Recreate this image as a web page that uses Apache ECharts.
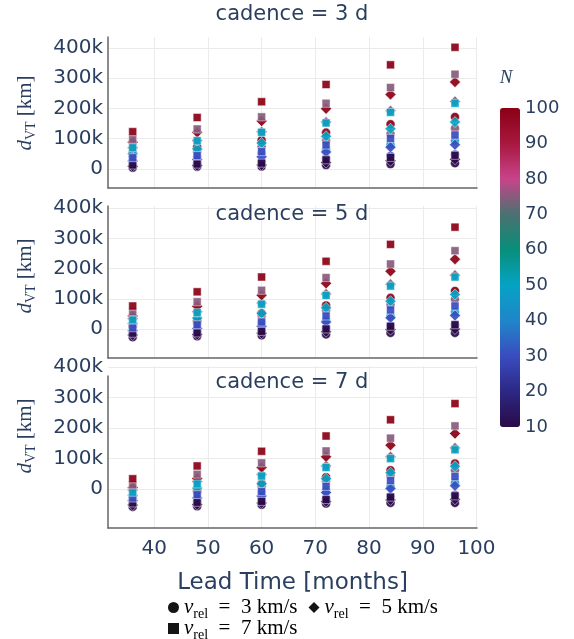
<!DOCTYPE html>
<html>
<head>
<meta charset="utf-8">
<script src="https://cdn.jsdelivr.net/npm/echarts@6/dist/echarts.min.js"></script>
<style>
  html, body { margin: 0; padding: 0; background: #fff; }
  #chart { width: 574px; height: 639px; }
</style>
</head>
<body>
<div id="chart"></div>
<script>
// Lead times (months) and number of observations N
const leadTime = [36, 48, 60, 72, 84, 96];
const nLevels = [10, 30, 50, 75, 100];
const xTickValues = [40, 50, 60, 70, 80, 90, 100];
const yTickValues = [0, 100, 200, 300, 400];
const cadenceLabels = ['cadence = 3 d', 'cadence = 5 d', 'cadence = 7 d'];
const colorTicks = [10, 20, 30, 40, 50, 60, 70, 80, 90, 100];

// d_VT in thousands of km. Rows follow nLevels, columns follow leadTime.
// cadence = 3 d
const cad3_v3 = [
  [4, 7, 8, 13, 16, 19],
  [16, 19, 24, 34, 43, 48],
  [30, 40, 52, 65, 80, 93],
  [42, 57, 74, 93, 116, 134],
  [53, 73, 95, 120, 148, 172]
];
const cad3_v5 = [
  [9, 11, 13, 21, 27, 32],
  [26, 31, 40, 56, 72, 80],
  [50, 66, 86, 108, 133, 155],
  [70, 94, 123, 155, 192, 223],
  [88, 121, 158, 199, 246, 287]
];
const cad3_v7 = [
  [13, 16, 19, 30, 38, 45],
  [37, 44, 57, 79, 101, 112],
  [70, 93, 121, 152, 187, 217],
  [98, 132, 172, 217, 269, 313],
  [123, 170, 222, 279, 344, 402]
];
// cadence = 5 d
const cad5_v3 = [
  [-27, -24, -21, -18, -13, -13],
  [-16, -10, -5, 3, 11, 14],
  [6, 18, 22, 29, 42, 56],
  [8, 24, 44, 62, 80, 98],
  [10, 27, 52, 78, 103, 126]
];
const cad5_v5 = [
  [-20, -18, -14, -9, -2, 0],
  [-6, 2, 9, 23, 37, 45],
  [18, 36, 52, 70, 92, 114],
  [34, 57, 86, 116, 148, 178],
  [43, 75, 112, 151, 191, 231]
];
const cad5_v7 = [
  [-14, -13, -8, 0, 9, 14],
  [4, 14, 23, 43, 63, 76],
  [30, 54, 82, 111, 142, 172],
  [57, 90, 128, 170, 215, 259],
  [76, 123, 172, 224, 280, 337]
];
// cadence = 7 d
const cad7_v3 = [
  [-58, -56, -51, -47, -45, -45],
  [-45, -40, -36, -31, -24, -19],
  [-30, -10, -8, -3, 8, 21],
  [-24, 1, 10, 27, 45, 62],
  [-23, -6, 19, 39, 62, 84]
];
const cad7_v5 = [
  [-52, -50, -45, -40, -35, -33],
  [-37, -29, -22, -11, 2, 11],
  [-20, 4, 18, 34, 54, 75],
  [-3, 25, 48, 76, 106, 135],
  [5, 35, 71, 106, 144, 182]
];
const cad7_v7 = [
  [-45, -43, -40, -34, -26, -22],
  [-29, -18, -8, 9, 28, 41],
  [-10, 17, 43, 71, 100, 129],
  [14, 49, 86, 125, 167, 207],
  [34, 76, 124, 174, 227, 280]
];

const panels = [
  [cad3_v3, cad3_v5, cad3_v7],
  [cad5_v3, cad5_v5, cad5_v7],
  [cad7_v3, cad7_v5, cad7_v7]
];
const speedNames = ['v3', 'v5', 'v7'];
const speedText = { v3: '3', v5: '5', v7: '7' };
const symbols = ['circle', 'diamond', 'rect'];
const symbolSizes = [9, 11, 8];

const TXT = '#2a3f5f';
const SANS = '"DejaVu Sans", Verdana, sans-serif';
const SERIF = '"Liberation Serif", "DejaVu Serif", serif';

// panel layout: top, height and y range of each facet
const panelBox = [
  { top: 37, height: 151, min: -63, max: 436 },
  { top: 206, height: 152, min: -96, max: 407 },
  { top: 366, height: 162, min: -127, max: 403 }
];
const GL = 108, GR = 97;

const grids = panelBox.map(b => ({ left: GL, right: GR, top: b.top, height: b.height }));
grids.push({ left: GL, right: GR, top: 376, height: 152 });      // axis line frame for bottom panel
grids.push({ left: 500, width: 20, top: 108, height: 319 });      // colour bar scale

const xAxes = panelBox.map((b, i) => ({
  type: 'value', gridIndex: i, min: 31.4, max: 100.1,
  axisLine: { show: true, onZero: false, lineStyle: { color: '#666', width: 1.5 } },
  axisTick: { show: false, customValues: xTickValues },
  axisLabel: { show: i === 2, customValues: xTickValues, color: TXT, fontFamily: SANS, fontSize: 20, margin: 11 },
  splitLine: { show: true, lineStyle: { color: '#ebebeb', width: 1 } },
  name: i === 2 ? 'Lead Time [months]' : '',
  nameLocation: 'middle', nameGap: 44,
  nameTextStyle: { color: TXT, fontFamily: SANS, fontSize: 23 }
}));
xAxes.push({ type: 'value', gridIndex: 3, min: 0, max: 1, show: false });
xAxes.push({ type: 'value', gridIndex: 4, min: 0, max: 1, show: false });

const yAxes = panelBox.map((b, i) => ({
  type: 'value', gridIndex: i, min: b.min, max: b.max,
  axisLine: { show: i !== 2, onZero: false, lineStyle: { color: '#666', width: 1.5 } },
  axisTick: { show: false, customValues: yTickValues },
  axisLabel: {
    customValues: yTickValues, color: TXT, fontFamily: SANS, fontSize: 20, margin: 5,
    formatter: v => (v === 0 ? '0' : v + 'k')
  },
  splitLine: { show: true, lineStyle: { color: '#ebebeb', width: 1 } }
}));
yAxes.push({
  type: 'value', gridIndex: 3, min: 0, max: 1,
  axisLine: { show: true, onZero: false, lineStyle: { color: '#666', width: 1.5 } },
  axisTick: { show: false }, axisLabel: { show: false }, splitLine: { show: false }
});
yAxes.push({
  type: 'value', gridIndex: 4, min: 10, max: 100, interval: 10, position: 'right',
  axisLine: { show: false }, axisTick: { show: false }, splitLine: { show: false },
  axisLabel: { color: TXT, fontFamily: SANS, fontSize: 18, margin: 5,
    customValues: colorTicks }
});

const series = [];
panels.forEach((sets, p) => {
  sets.forEach((rows, s) => {
    const data = [];
    rows.forEach((row, k) => {
      row.forEach((val, i) => data.push([leadTime[i], val, nLevels[k]]));
    });
    series.push({
      name: speedNames[s], type: 'scatter', xAxisIndex: p, yAxisIndex: p,
      symbol: symbols[s], symbolSize: symbolSizes[s], data,
      itemStyle: { borderColor: 'rgba(255,255,255,0.5)', borderWidth: 1, opacity: 0.92 },
      emphasis: { disabled: true }
    });
  });
});

const legendRich = {
  v: { fontFamily: SERIF, fontStyle: 'italic', fontSize: 21, color: '#000', lineHeight: 28 },
  r: { fontFamily: SERIF, fontSize: 14, color: '#000', verticalAlign: 'bottom', lineHeight: 28 },
  t: { fontFamily: SERIF, fontSize: 21, color: '#000', lineHeight: 28 }
};
const legendFmt = name => '{v|v}{r|rel}{t|  =  ' + speedText[name] + ' km/s}';
const legendBase = {
  orient: 'horizontal', itemWidth: 11, itemHeight: 11, itemGap: 11, selectedMode: false,
  formatter: legendFmt, textStyle: { rich: legendRich, padding: [0, 0, 0, 0] }
};

const option = {
  animation: false,
  backgroundColor: '#fff',
  grid: grids,
  xAxis: xAxes,
  yAxis: yAxes,
  visualMap: {
    type: 'continuous', min: 10, max: 100, dimension: 2,
    seriesIndex: series.map((_, i) => i),
    left: 500, top: 108, itemWidth: 20, itemHeight: 319, padding: 0,
    calculable: false, text: null, showLabel: false, hoverLink: false,
    inRange: {
      color: ['#2a0a48', '#2c2884', '#3a4cc0', '#1f86c9', '#05a3c4',
              '#078f7a', '#4a7170', '#c8448a', '#a8183f', '#8b0015']
    }
  },
  legend: [
    Object.assign({}, legendBase, {
      left: 163, top: 592,
      data: [
        { name: 'v3', icon: 'circle', itemStyle: { color: '#000', borderWidth: 0 } },
        { name: 'v5', icon: 'diamond', itemStyle: { color: '#000', borderWidth: 0 } }
      ]
    }),
    Object.assign({}, legendBase, {
      left: 163, top: 613,
      data: [{ name: 'v7', icon: 'rect', itemStyle: { color: '#000', borderWidth: 0 } }]
    })
  ],
  graphic: [
    ...cadenceLabels.map((t, i) => ({
      type: 'text', x: 292, y: [15, 215, 383][i], z: 100,
      style: { text: t, fill: TXT, font: '21px ' + SANS, align: 'center', verticalAlign: 'middle' }
    })),
    ...[113, 276, 436].map(cy => ({
      type: 'text', x: 25, y: cy, rotation: Math.PI / 2, z: 100,
      style: {
        text: '{i|d}{s|VT}{t| [km]}', align: 'center', verticalAlign: 'middle',
        rich: {
          i: { fontFamily: SERIF, fontStyle: 'italic', fontSize: 21, fill: TXT, lineHeight: 26 },
          s: { fontFamily: SERIF, fontSize: 14, fill: TXT, verticalAlign: 'bottom', lineHeight: 26 },
          t: { fontFamily: SERIF, fontSize: 21, fill: TXT, lineHeight: 26 }
        }
      }
    })),
    {
      type: 'text', x: 506, y: 78, z: 100,
      style: { text: 'N', fill: TXT, font: 'italic 19px ' + SERIF, align: 'center', verticalAlign: 'middle' }
    }
  ],
  series
};

const chart = echarts.init(document.getElementById('chart'), null, { renderer: 'canvas' });
chart.setOption(option);
</script>
</body>
</html>
